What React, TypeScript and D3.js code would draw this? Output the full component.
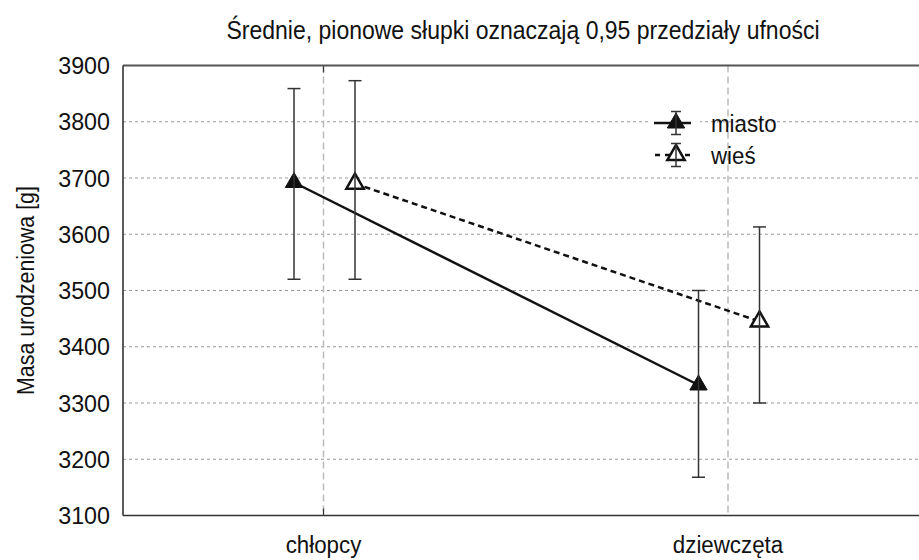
import React from "react";
import * as d3 from "d3";

const categories = ["chłopcy", "dziewczęta"];
const seriesNames = ["miasto", "wieś"];
const miastoMean = [3692, 3332];
const miastoLow = [3520, 3168];
const miastoHigh = [3859, 3500];
const wiesMean = [3690, 3445];
const wiesLow = [3520, 3300];
const wiesHigh = [3873, 3613];
const yTicks = [3100, 3200, 3300, 3400, 3500, 3600, 3700, 3800, 3900];
const title = "Średnie, pionowe słupki oznaczają 0,95 przedziały ufności";
const yLabel = "Masa urodzeniowa [g]";

const W = 919;
const H = 560;
const plot = { left: 123, right: 940, top: 65.5, bottom: 515.5 };
const FONT = "'Liberation Sans', Arial, Helvetica, sans-serif";

function T(props: { x: number; y: number; size: number; sx: number; anchor?: string; rotate?: number; children: React.ReactNode }) {
  const { x, y, size, sx, anchor = "start", rotate = 0, children } = props;
  return (
    <text transform={`translate(${x},${y}) rotate(${rotate}) scale(${sx},1)`} textAnchor={anchor} fontSize={size} fill="#111">
      {children}
    </text>
  );
}

export default function App() {
  const x = d3.scalePoint<string>().domain(categories).range([323.5, 728]);
  const y = d3.scaleLinear().domain([3100, 3900]).range([plot.bottom, plot.top]);

  const series = [
    { name: seriesNames[0], mean: miastoMean, low: miastoLow, high: miastoHigh, dx: -29.5, filled: true, dash: "none" },
    { name: seriesNames[1], mean: wiesMean, low: wiesLow, high: wiesHigh, dx: 31.5, filled: false, dash: "6,4" },
  ];

  const tri = d3.symbol().type(d3.symbolTriangle).size(130);
  const triPath = tri() as string;
  const line = d3.line<[number, number]>();

  const legendX = 676;
  const legendY = [123, 155];

  return (
    <svg width={W} height={H} style={{ position: "absolute", left: 0, top: 0, background: "#fff" }} fontFamily={FONT}>
      <rect x={0} y={0} width={W} height={H} fill="#fff" />
      <T x={523} y={39} size={25} sx={0.92} anchor="middle">{title}</T>

      {/* horizontal grid */}
      {yTicks.slice(1, -1).map((t) => (
        <line key={t} x1={plot.left} x2={plot.right} y1={y(t)} y2={y(t)} stroke="#999" strokeWidth={1} strokeDasharray="3,3" />
      ))}
      {/* vertical grid */}
      {categories.map((c) => (
        <line key={c} x1={x(c)} x2={x(c)} y1={plot.top} y2={plot.bottom} stroke="#bbb" strokeWidth={1.5} strokeDasharray="7,4" />
      ))}
      {/* ticks at first category */}
      <line x1={x(categories[0])} x2={x(categories[0])} y1={plot.top} y2={plot.top + 7} stroke="#333" strokeWidth={1.2} />
      <line x1={x(categories[0])} x2={x(categories[0])} y1={plot.bottom - 7} y2={plot.bottom} stroke="#333" strokeWidth={1.2} />

      {/* frame */}
      <line x1={plot.left} x2={plot.right} y1={plot.top} y2={plot.top} stroke="#555" strokeWidth={2.2} />
      <line x1={plot.left} x2={plot.right} y1={plot.bottom} y2={plot.bottom} stroke="#333" strokeWidth={1.6} />
      <line x1={plot.left} x2={plot.left} y1={plot.top} y2={plot.bottom} stroke="#333" strokeWidth={1.6} />

      {/* y tick labels */}
      {yTicks.map((t) => (
        <T key={t} x={110} y={y(t) + 8.5} size={24} sx={0.97} anchor="end">{t}</T>
      ))}
      <T x={34} y={(plot.top + plot.bottom) / 2} size={24} sx={0.89} anchor="middle" rotate={-90}>{yLabel}</T>

      {/* category labels */}
      {categories.map((c) => (
        <T key={c} x={x(c) as number} y={553} size={23.5} sx={0.95} anchor="middle">{c}</T>
      ))}

      {/* mean lines */}
      {series.map((s) => (
        <path key={s.name} d={line(categories.map((c, i) => [(x(c) as number) + s.dx, y(s.mean[i])])) as string}
          fill="none" stroke="#111" strokeWidth={2.5} strokeDasharray={s.dash} />
      ))}
      {/* markers */}
      {series.map((s) => categories.map((c, i) => (
        <path key={s.name + c} d={triPath} transform={`translate(${(x(c) as number) + s.dx},${y(s.mean[i])})`}
          fill={s.filled ? "#111" : "#fff"} stroke="#111" strokeWidth={s.filled ? 1 : 2.5} strokeLinejoin="miter" />
      )))}
      {/* error bars */}
      {series.map((s) => categories.map((c, i) => {
        const cx = (x(c) as number) + s.dx;
        return (
          <g key={"e" + s.name + c} stroke="#333" strokeWidth={1.5}>
            <line x1={cx} x2={cx} y1={y(s.high[i])} y2={y(s.low[i])} />
            <line x1={cx - 6.5} x2={cx + 6.5} y1={y(s.high[i])} y2={y(s.high[i])} />
            <line x1={cx - 6.5} x2={cx + 6.5} y1={y(s.low[i])} y2={y(s.low[i])} />
          </g>
        );
      }))}

      {/* legend */}
      {series.map((s, k) => {
        const ly = legendY[k];
        return (
          <g key={"l" + s.name}>
            <rect x={650} y={ly - 14} width={50} height={28} fill="#fff" />
            <line x1={654} x2={691} y1={ly} y2={ly} stroke="#111" strokeWidth={2.5} strokeDasharray={s.filled ? "none" : "5,5"} strokeDashoffset={s.filled ? 0 : -1} />
            <path d={triPath} transform={`translate(${legendX},${ly})`} fill={s.filled ? "#111" : "#fff"} stroke="#111" strokeWidth={s.filled ? 1 : 2.5} />
            <g stroke="#333" strokeWidth={1.5}>
              <line x1={legendX} x2={legendX} y1={ly - 11.5} y2={ly + 11.5} />
              <line x1={legendX - 5} x2={legendX + 5} y1={ly - 11.5} y2={ly - 11.5} />
              <line x1={legendX - 5} x2={legendX + 5} y1={ly + 11.5} y2={ly + 11.5} />
            </g>
            <T x={711} y={ly + 8.5} size={24} sx={0.93}>{s.name}</T>
          </g>
        );
      })}
    </svg>
  );
}
